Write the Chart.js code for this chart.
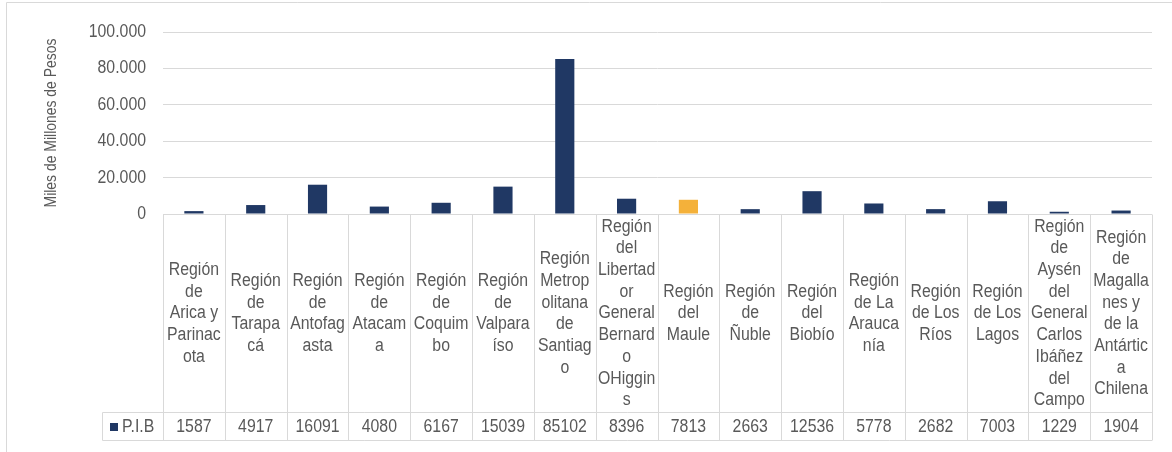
<!DOCTYPE html>
<html>
<head>
<meta charset="utf-8">
<script src="https://cdn.jsdelivr.net/npm/chart.js@4/dist/chart.umd.min.js"></script>
<style>
  html, body { margin: 0; padding: 0; background: #fff; }
</style>
</head>
<body>
<canvas id="grafico" width="1172" height="452"></canvas>
<script>
// datos
const regiones = [
  ['Región', 'de', 'Arica y', 'Parinac', 'ota'],
  ['Región', 'de', 'Tarapa', 'cá'],
  ['Región', 'de', 'Antofag', 'asta'],
  ['Región', 'de', 'Atacam', 'a'],
  ['Región', 'de', 'Coquim', 'bo'],
  ['Región', 'de', 'Valpara', 'íso'],
  ['Región', 'Metrop', 'olitana', 'de', 'Santiag', 'o'],
  ['Región', 'del', 'Libertad', 'or', 'General', 'Bernard', 'o', 'OHiggin', 's'],
  ['Región', 'del', 'Maule'],
  ['Región', 'de', 'Ñuble'],
  ['Región', 'del', 'Biobío'],
  ['Región', 'de La', 'Arauca', 'nía'],
  ['Región', 'de Los', 'Ríos'],
  ['Región', 'de Los', 'Lagos'],
  ['Región', 'de', 'Aysén', 'del', 'General', 'Carlos', 'Ibáñez', 'del', 'Campo'],
  ['Región', 'de', 'Magalla', 'nes y', 'de la', 'Antártic', 'a', 'Chilena']
];
const pib = [1587, 4917, 16091, 4080, 6167, 15039, 85102, 8396, 7813, 2663, 12536, 5778, 2682, 7003, 1229, 1904];
const ticksY = [0, 20000, 40000, 60000, 80000, 100000];
const nombreSerie = 'P.I.B';
const tituloEjeY = 'Miles de Millones de Pesos';
const indiceDestacado = 8; // Región del Maule

const azul = '#203864';
const naranjo = '#f4b13a';
const gris = '#d9d9d9';
const colorTexto = '#595959';

function formatoMiles(v) {
  return String(v).replace(/\B(?=(\d{3})+(?!\d))/g, '.');
}

// texto algo angosto, como en la imagen original
function escribir(ctx, txt, x, y, align) {
  ctx.save();
  ctx.translate(x, y);
  ctx.scale(0.88, 1);
  ctx.textAlign = align || 'center';
  ctx.fillText(txt, 0, 0);
  ctx.restore();
}

function linea(ctx, x1, y1, x2, y2) {
  ctx.beginPath();
  ctx.moveTo(x1, y1);
  ctx.lineTo(x2, y2);
  ctx.stroke();
}

const tablaDatos = {
  id: 'tablaDatos',
  beforeDraw(chart) {
    const ctx = chart.ctx;
    ctx.save();
    ctx.strokeStyle = gris;
    ctx.lineWidth = 1;
    linea(ctx, 6.5, 452, 6.5, 2.5);
    linea(ctx, 6.5, 2.5, 1172, 2.5);
    ctx.restore();
  },
  afterDraw(chart) {
    const ctx = chart.ctx;
    const area = chart.chartArea;
    const xs = chart.scales.x;
    const ys = chart.scales.y;
    const n = regiones.length;
    const ancho = (area.right - area.left) / n;
    const yTop = Math.round(area.bottom) + 0.5;
    const yHead = 412.5;
    const yVal = 440.5;
    const xLeg = 102.5;

    ctx.save();
    ctx.strokeStyle = gris;
    ctx.lineWidth = 1;
    linea(ctx, area.left, yTop, area.right, yTop);
    linea(ctx, xLeg, yHead, area.right, yHead);
    linea(ctx, xLeg, yVal, area.right, yVal);
    linea(ctx, xLeg, yHead, xLeg, yVal);
    for (let i = 0; i <= n; i++) {
      const x = Math.round(area.left + i * ancho) + 0.5;
      linea(ctx, x, yTop, x, yVal);
    }

    ctx.fillStyle = colorTexto;
    ctx.font = '18px "Liberation Sans", Arial, sans-serif';
    ctx.textBaseline = 'middle';

    // etiquetas del eje y
    ticksY.forEach((v) => {
      escribir(ctx, formatoMiles(v), 146, ys.getPixelForValue(v), 'right');
    });

    // título del eje y
    ctx.save();
    ctx.translate(51, 123);
    ctx.rotate(-Math.PI / 2);
    ctx.font = '17px "Liberation Sans", Arial, sans-serif';
    ctx.textAlign = 'center';
    ctx.scale(0.82, 1);
    ctx.fillText(tituloEjeY, 0, 0);
    ctx.restore();

    // encabezados y valores
    const alto = 21.7;
    const centroHead = (yTop + yHead) / 2;
    regiones.forEach((lineas, i) => {
      const cx = xs.getPixelForValue(i);
      const y0 = centroHead - (lineas.length - 1) * alto / 2;
      lineas.forEach((t, k) => escribir(ctx, t, cx, y0 + k * alto));
      escribir(ctx, String(pib[i]), cx, (yHead + yVal) / 2 + 1);
    });

    // leyenda
    ctx.fillStyle = azul;
    ctx.fillRect(110, 423, 8, 8);
    ctx.fillStyle = colorTexto;
    escribir(ctx, nombreSerie, 122, (yHead + yVal) / 2 + 1, 'left');
    ctx.restore();
  }
};

new Chart(document.getElementById('grafico'), {
  type: 'bar',
  data: {
    labels: regiones,
    datasets: [{
      label: nombreSerie,
      data: pib,
      backgroundColor: pib.map((v, i) => i === indiceDestacado ? naranjo : azul),
      barPercentage: 0.31,
      categoryPercentage: 1
    }]
  },
  options: {
    responsive: false,
    animation: false,
    devicePixelRatio: 1,
    layout: { padding: { left: 163, right: 20, top: 32, bottom: 238 } },
    plugins: { legend: { display: false }, tooltip: { enabled: false } },
    scales: {
      x: { display: false },
      y: {
        min: 0,
        max: 100000,
        ticks: { stepSize: 20000, display: false },
        grid: { color: gris, drawTicks: false },
        border: { display: false },
        afterFit(s) { s.width = 0; }
      }
    }
  },
  plugins: [tablaDatos]
});
</script>
</body>
</html>
